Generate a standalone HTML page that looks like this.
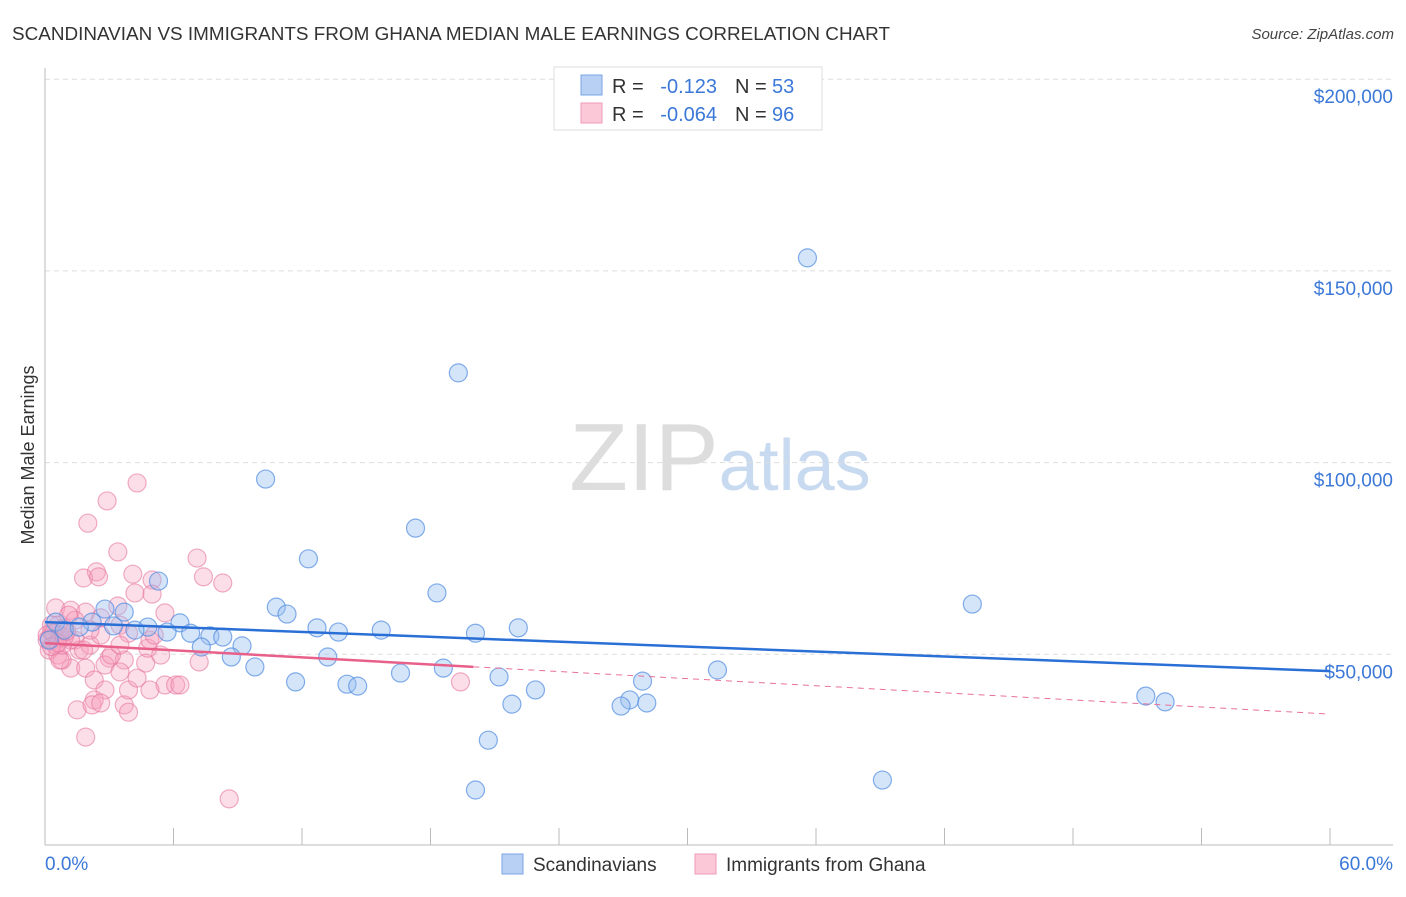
<!DOCTYPE html>
<html><head><meta charset="utf-8"><style>
body{margin:0;background:#fff;font-family:"Liberation Sans",sans-serif}
svg text{font-family:"Liberation Sans",sans-serif}
</style></head><body>
<svg id="chart" width="1406" height="892" xmlns="http://www.w3.org/2000/svg">
<text x="12" y="40" font-size="18" fill="#333" textLength="878" lengthAdjust="spacingAndGlyphs">SCANDINAVIAN VS IMMIGRANTS FROM GHANA MEDIAN MALE EARNINGS CORRELATION CHART</text>
<text x="1394" y="39" font-size="15" fill="#444" font-style="italic" text-anchor="end">Source: ZipAtlas.com</text>
<text x="720" y="490" font-size="96" text-anchor="middle" fill="#ddd" font-family="Liberation Serif">ZIP<tspan fill="#c8daf0" font-family="Liberation Sans" font-size="72">atlas</tspan></text>
<text transform="translate(34,455) rotate(-90)" font-size="18" fill="#333" text-anchor="middle">Median Male Earnings</text>
<g id="grid"></g><g id="axes"></g><g id="pts"></g><g id="lines"></g>
<g>
<rect x="554" y="67" width="268" height="63" fill="#fff" stroke="#ddd"/>
<rect x="581" y="75" width="21" height="20" fill="#b8d0f4" stroke="#7aa6e4"/>
<rect x="581" y="103" width="21" height="20" fill="#fbc8d8" stroke="#ef9ab8"/>
<text x="612" y="93" font-size="20" fill="#333">R = </text><text x="717" y="93" font-size="20" fill="#3b78d8" text-anchor="end">-0.123</text>
<text x="735" y="93" font-size="20" fill="#333">N = </text><text x="772" y="93" font-size="20" fill="#3b78d8">53</text>
<text x="612" y="121" font-size="20" fill="#333">R = </text><text x="717" y="121" font-size="20" fill="#3b78d8" text-anchor="end">-0.064</text>
<text x="735" y="121" font-size="20" fill="#333">N = </text><text x="772" y="121" font-size="20" fill="#3b78d8">96</text>
</g>
<g>
<rect x="502" y="854" width="21" height="20" fill="#b8d0f4" stroke="#7aa6e4"/>
<text x="533" y="871" font-size="19" fill="#333">Scandinavians</text>
<rect x="695" y="854" width="21" height="20" fill="#fbc8d8" stroke="#ef9ab8"/>
<text x="726" y="871" font-size="19" fill="#333">Immigrants from Ghana</text>
</g>
<text x="45" y="870" font-size="19" fill="#3b78d8">0.0%</text>
<text x="1393" y="870" font-size="19" fill="#3b78d8" text-anchor="end">60.0%</text>
</svg>
<script>
const yTicks=[50000,100000,150000,200000];
const yTickLabels=["$50,000","$100,000","$150,000","$200,000"];
const xTicks=[0,6,12,18,24,30,36,42,48,54,60];
const blueX=[35.6,19.3,10.3,17.3,12.3,5.3,18.3,43.3,10.8,11.3,2.8,3.7,2.2,6.3,4.8,12.7,13.7,15.7,22.1,20.1,5.7,6.8,7.7,8.3,9.2,7.3,8.7,13.2,9.8,31.4,16.6,18.6,27.9,21.2,11.7,14.1,14.6,22.9,51.4,52.3,27.3,28.1,26.9,21.8,20.7,39.1,20.1,0.5,0.9,0.2,1.6,3.2,4.2];
const blueY=[153.4,123.4,95.7,82.9,74.9,69.1,66.0,63.1,62.3,60.5,61.8,61.0,58.4,58.2,57.1,56.9,55.8,56.3,56.9,55.5,55.8,55.5,54.8,54.5,52.2,51.9,49.3,49.3,46.7,45.9,45.1,46.4,43.0,44.1,42.8,42.2,41.7,40.7,39.1,37.6,38.1,37.3,36.5,37.0,27.6,17.2,14.6,58.4,56.3,53.7,57.1,57.4,56.3];
const pinkX=[4.3,2.9,2.0,3.4,7.1,2.4,1.8,2.5,4.1,5.0,7.4,8.3,4.2,5.0,3.4,5.6,0.5,1.2,1.9,2.6,1.4,3.5,0.1,0.2,0.5,0.7,0.9,0.3,0.6,1.4,1.6,2.1,2.6,3.0,3.7,1.2,1.9,2.8,2.3,3.5,4.7,4.8,4.9,3.9,7.2,5.6,6.1,4.9,2.8,2.3,1.5,2.2,2.6,3.7,3.9,1.9,8.6,19.4,3.9,4.3,0.6,1.1,3.1,0.8,2.1,1.2,0.3,0.1,0.7,5.4,6.3,3.5,5.1,1.8,0.8,0.2,0.4,0.6,0.3,0.9,1.0];
const pinkY=[94.7,90.0,84.2,76.7,75.1,71.5,69.9,70.2,70.9,69.4,70.2,68.6,66.0,65.7,62.6,60.8,62.1,61.5,61.0,59.5,58.9,57.6,53.7,51.1,52.4,55.0,56.9,55.8,49.8,53.7,51.1,52.4,55.0,49.0,48.5,46.4,46.4,47.2,43.3,45.4,47.7,51.6,53.7,55.5,48.0,42.0,42.0,40.7,40.7,38.1,35.5,36.8,37.3,36.8,34.9,28.4,12.3,42.8,40.7,43.8,57.6,60.2,49.8,48.5,56.3,53.7,57.6,55.0,48.5,49.8,42.0,52.4,55.0,51.1,52.4,54.0,55.5,53.0,52.0,54.5,56.0];
const blueTrend=[58.4,45.6];
const pinkTrend=[52.9,34.4];
const pinkSolidEnd=20;
const X=v=>45+v*(1330-45)/60;
const Y=v=>846-v*191.7/50000;
const NS="http://www.w3.org/2000/svg";
function mk(t,a,p){const e=document.createElementNS(NS,t);for(const k in a)e.setAttribute(k,a[k]);p.appendChild(e);return e;}
const grid=document.getElementById('grid'),axes=document.getElementById('axes'),pts=document.getElementById('pts'),lines=document.getElementById('lines');
yTicks.forEach((t,i)=>{
 const l=mk('line',{x1:45,x2:1393,y1:Y(t),y2:Y(t),stroke:'#ddd','stroke-dasharray':'5,4'},grid);
 
 
 const tx=mk('text',{x:1393,y:Y(t)+24,'font-size':19,fill:'#3b78d8','text-anchor':'end'},grid);
 tx.textContent=yTickLabels[i];
 
 
});
const ax=mk('line',{x1:45,x2:45,y1:68,y2:845,stroke:'#bbb'},axes);


const bx=mk('line',{x1:45,x2:1393,y1:845,y2:845,stroke:'#bbb'},axes);


xTicks.forEach(t=>{
 const l=mk('line',{x1:X(t),x2:X(t),y1:828,y2:845,stroke:'#bbb'},axes);
 
 
});
pinkX.forEach((x,i)=>{
 const c=mk('circle',{cx:X(x),cy:Y(pinkY[i]*1000),r:9,fill:'rgba(245,160,190,0.35)',stroke:'rgba(230,120,160,0.6)','stroke-width':1.2},pts);
 
 
});
blueX.forEach((x,i)=>{
 const c=mk('circle',{cx:X(x),cy:Y(blueY[i]*1000),r:9,fill:'rgba(150,190,240,0.4)',stroke:'rgba(80,140,225,0.7)','stroke-width':1.2},pts);
 
 
});
const pAt=x=>pinkTrend[0]+(pinkTrend[1]-pinkTrend[0])*x/60;
const pd=mk('line',{x1:X(pinkSolidEnd),y1:Y(pAt(pinkSolidEnd)*1000),x2:X(60),y2:Y(pinkTrend[1]*1000),stroke:'#e8709a','stroke-width':1,'stroke-dasharray':'6,5'},lines);


const ps=mk('line',{x1:X(0),y1:Y(pinkTrend[0]*1000),x2:X(pinkSolidEnd),y2:Y(pAt(pinkSolidEnd)*1000),stroke:'#e8608a','stroke-width':2.5},lines);


const bl=mk('line',{x1:X(0),y1:Y(blueTrend[0]*1000),x2:X(60),y2:Y(blueTrend[1]*1000),stroke:'#2a6fd6','stroke-width':2.5},lines);


</script>
</body></html>
